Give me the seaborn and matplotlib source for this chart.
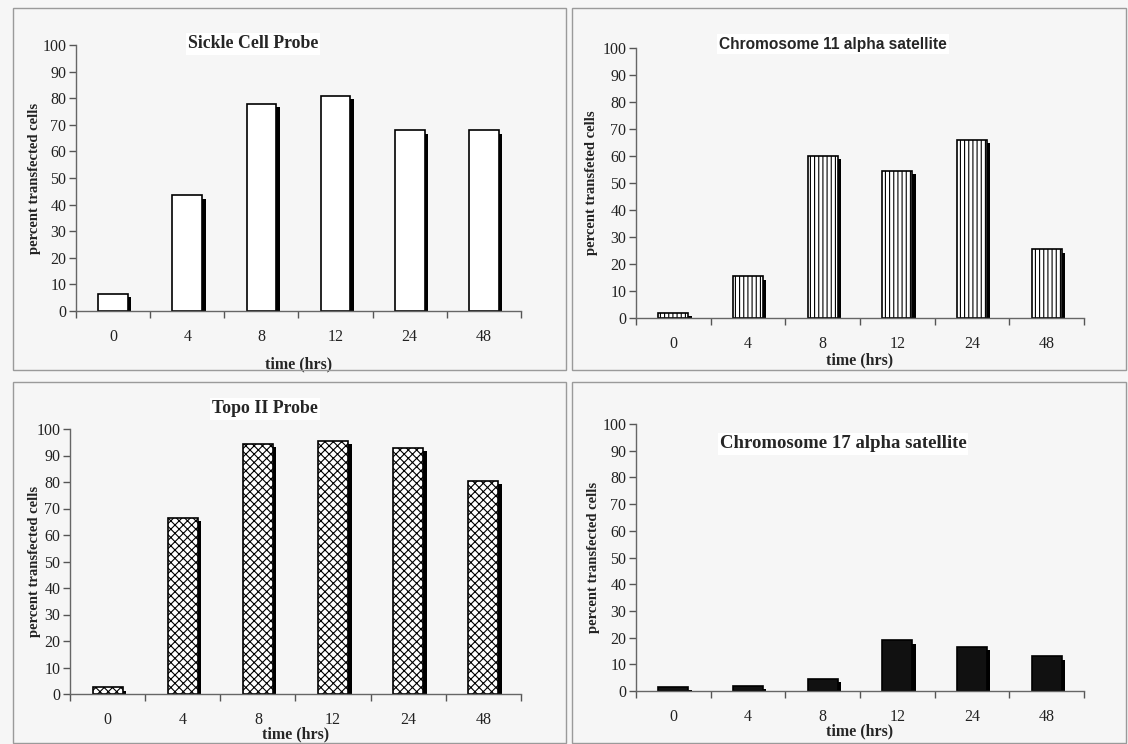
import matplotlib.pyplot as plt
import matplotlib.patheffects as pe
from matplotlib.patches import Rectangle
from matplotlib.ticker import FixedLocator
import pandas as pd
import seaborn as sns

# time points (hrs)
times = ["0", "4", "8", "12", "24", "48"]

sickle_cell = [6.5, 43.5, 78, 81, 68, 68]
chrom11 = [2, 15.5, 60, 54.5, 66, 25.5]
topo2 = [2.5, 66.5, 94.5, 95.5, 93, 80.5]
chrom17 = [1.5, 2, 4.5, 19, 16.5, 13]

titles = ["Sickle Cell Probe", "Chromosome 11 alpha satellite",
          "Topo II Probe", "Chromosome 17 alpha satellite"]
ylabels = ["percent transfected cells", "percent transfeted cells",
           "percent transfected cells", "percent transfected cells"]

sns.set_theme(style="white")
plt.rcParams["font.family"] = ["Liberation Serif", "DejaVu Serif"]

BG = "#f6f6f6"
fig = plt.figure(figsize=(11.28, 7.44), dpi=100, facecolor=BG)

# panel frames (figure fractions)
W, H = 1128, 744
for x0, y0, x1, y1 in [(13, 8, 566, 370), (572, 8, 1126, 370),
                       (13, 382, 566, 743), (572, 382, 1126, 743)]:
    fig.patches.append(Rectangle((x0 / W, 1 - y1 / H), (x1 - x0) / W, (y1 - y0) / H,
                                 transform=fig.transFigure, fill=False,
                                 edgecolor="#9a9a9a", linewidth=1.0))

panels = [
    dict(vals=sickle_cell, rect=(76, 45, 521, 311), hatch=None, face="white",
         title_xy=(253, 44), title_font="Liberation Serif", title_size=12.8,
         xlabel_pad=8, ylab_x=35),
    dict(vals=chrom11, rect=(636, 48, 1084, 318), hatch="||||", face="white",
         title_xy=(833, 44), title_font="Liberation Sans", title_size=11.2,
         xlabel_pad=0, ylab_x=591),
    dict(vals=topo2, rect=(70, 429, 521, 694), hatch="xxxx", face="white",
         title_xy=(265, 409), title_font="Liberation Serif", title_size=12.8,
         xlabel_pad=-1, ylab_x=35),
    dict(vals=chrom17, rect=(636, 424, 1084, 691), hatch=None, face="#111111",
         title_xy=(843, 444), title_font="Liberation Serif", title_size=13.5,
         xlabel_pad=-1, ylab_x=594),
]

plt.rcParams["hatch.linewidth"] = 0.8
plt.rcParams["hatch.color"] = "black"

for i, p in enumerate(panels):
    x0, y0, x1, y1 = p["rect"]
    ax = fig.add_axes([x0 / W, 1 - y1 / H, (x1 - x0) / W, (y1 - y0) / H])
    ax.set_facecolor("none")
    df = pd.DataFrame({"time": times, "value": p["vals"]})
    sns.barplot(data=df, x="time", y="value", ax=ax, color=p["face"],
                edgecolor="black", linewidth=1.2, width=0.4, saturation=1)
    for bar in ax.patches:
        bar.set_facecolor(p["face"])
        if p["hatch"]:
            bar.set_hatch(p["hatch"])
        bar.set_path_effects([
            pe.SimplePatchShadow(offset=(2.5, -2.5), shadow_rgbFace="black", alpha=1.0),
            pe.Normal(),
        ])
    ax.set_xlim(-0.5, 5.5)
    ax.set_ylim(0, 100)
    ax.set_yticks(range(0, 101, 10))
    ax.xaxis.set_minor_locator(FixedLocator([k - 0.5 for k in range(7)]))
    ax.tick_params(axis="x", which="major", length=0, pad=13, labelsize=11.5)
    ax.tick_params(axis="x", which="minor", length=5, width=1, color="#555555",
                   direction="out", bottom=True)
    ax.tick_params(axis="y", length=5, width=1, color="#555555", direction="out",
                   left=True, labelsize=11.5, pad=2)
    for lab in ax.get_xticklabels() + ax.get_yticklabels():
        lab.set_color("#222222")
    sns.despine(ax=ax)
    for s in ("left", "bottom"):
        ax.spines[s].set_color("#666666")
        ax.spines[s].set_linewidth(1.0)
    ax.set_xlabel("time (hrs)", fontsize=11.5, fontweight="bold", labelpad=p["xlabel_pad"])
    ax.set_ylabel("")
    fig.text(p["ylab_x"] / W, 1 - ((y0 + y1) / 2) / H, ylabels[i], rotation=90,
             ha="center", va="center", fontsize=10.5, fontweight="bold", color="#222222")
    tx, ty = p["title_xy"]
    fig.text(tx / W, 1 - ty / H, titles[i], ha="center", va="center",
             fontsize=p["title_size"], fontweight="bold", family=p["title_font"],
             bbox=dict(facecolor="white", edgecolor="none", pad=1.5))

fig.savefig("out.png", dpi=100, facecolor=BG)
